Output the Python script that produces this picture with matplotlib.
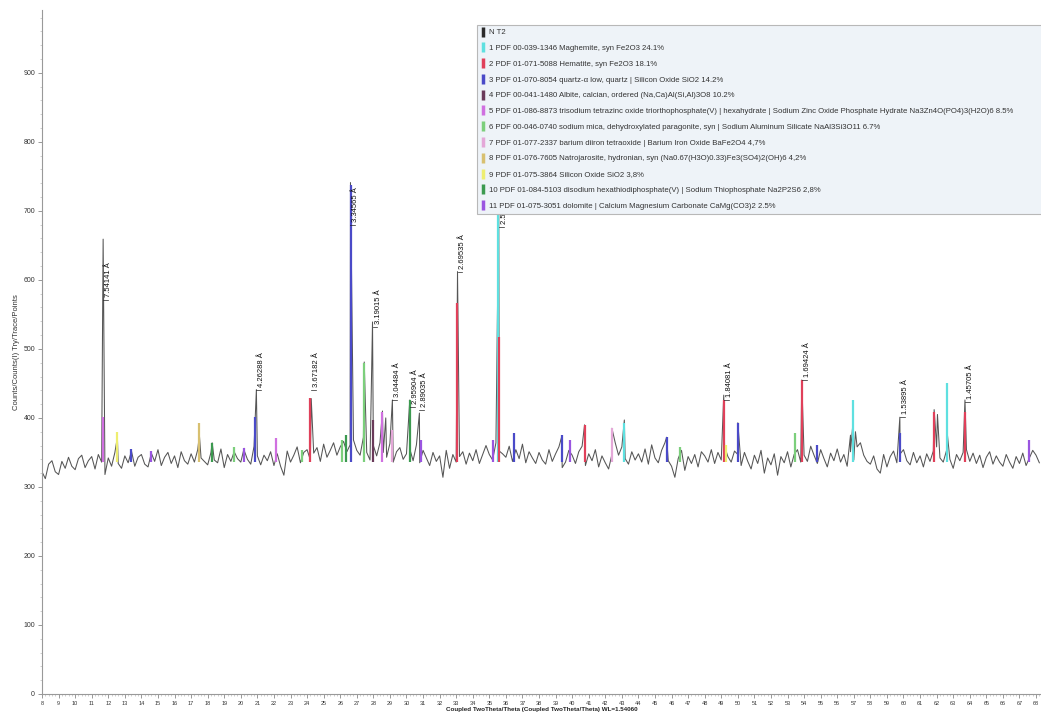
import matplotlib.pyplot as plt
import numpy as np
from matplotlib.lines import Line2D
from matplotlib.ticker import MultipleLocator

plt.rcParams['font.family'] = ['Liberation Sans', 'DejaVu Sans']

# scan: 2theta from 8 deg, 0.2 deg step, background counts
scan_start = 8.0
scan_step = 0.2
background_counts = [
    322, 312, 333, 338, 322, 318, 337, 327, 343, 330,
    325, 341, 346, 328, 338, 344, 326, 347, 336, 318,
    342, 330, 350, 334, 327, 345, 335, 352, 330, 343,
    347, 333, 329, 349, 337, 354, 331, 343, 350, 334,
    345, 328, 351, 338, 333, 348, 336, 354, 342, 337,
    332, 350, 339, 335, 355, 328, 347, 337, 351, 341,
    336, 353, 340, 333, 359, 345, 332, 346, 338, 351,
    331, 348, 330, 317, 352, 336, 346, 358, 335, 350,
    354, 339, 349, 357, 337, 362, 343, 353, 364, 346,
    358, 366, 351, 361, 368, 353, 346, 372, 350, 339,
    360, 345, 364, 350, 343, 363, 336, 351, 357, 340,
    348, 355, 338, 361, 335, 353, 342, 331, 350, 337,
    345, 314, 353, 327, 347, 336, 344, 351, 333, 349,
    338, 354, 334, 347, 360, 347, 339, 364, 352, 348,
    343, 359, 337, 354, 341, 362, 335, 351, 342, 334,
    350, 339, 333, 354, 337, 348, 358, 328, 336, 353,
    346, 334, 351, 359, 331, 348, 338, 354, 329, 345,
    335, 326, 347, 364, 346, 358, 341, 333, 351, 339,
    348, 336, 355, 333, 361, 342, 335, 353, 364, 338,
    330, 314, 341, 353, 324, 344, 334, 347, 329, 351,
    345, 336, 354, 334, 350, 339, 359, 344, 336, 352,
    347, 331, 350, 337, 326, 346, 334, 353, 320, 342,
    332, 348, 317, 344, 335, 351, 329, 347, 354, 336,
    346, 337, 359, 346, 334, 354, 341, 329, 349, 338,
    355, 336, 347, 330, 351, 339, 358, 364, 346, 337,
    333, 345, 326, 320, 347, 329, 344, 352, 335, 348,
    354, 338, 332, 350, 335, 345, 329, 348, 337, 352,
    358, 342, 336, 353, 340, 327, 347, 338, 350, 354,
    337, 349, 334, 346, 328, 343, 351, 333, 345, 336,
    330, 347, 336, 327, 344, 334, 349, 331, 342, 353,
    346, 335,
]

# peak maxima of the measured trace
peak_pos = [11.69, 12.55, 17.5, 18.27, 20.2, 20.94, 24.25, 26.62, 27.45, 27.95,
            28.55, 28.75, 29.15, 30.2, 30.78, 33.08, 35.57, 39.36, 40.75, 42.4,
            43.15, 45.7, 49.15, 50.0, 53.86, 56.8, 56.94, 57.1, 59.78, 61.85,
            62.05, 62.62, 63.71]
peak_counts = [659, 372, 375, 364, 356, 441, 428, 741, 481, 539,
               410, 400, 426, 426, 407, 612, 716, 372, 390, 385,
               397, 372, 433, 393, 455, 375, 390, 380, 401, 412,
               405, 383, 426]

# d-spacing labels
label_pos = [11.69, 20.94, 24.25, 26.62, 27.95, 29.15, 30.2, 30.78, 33.08, 35.57,
             49.15, 53.86, 59.78, 63.71]
label_base = [571, 441, 441, 680, 532, 426, 416, 412, 612, 677,
              426, 455, 401, 423]
label_text = ['7.54141 Å', '4.26288 Å', '3.67182 Å', '3.34565 Å', '3.19015 Å',
              '3.04484 Å', '2.95904 Å', '2.89035 Å', '2.69535 Å', '2.51918 Å',
              '1.84081 Å', '1.69424 Å', '1.53895 Å', '1.45705 Å']

# phase sticks: position, top, phase number (1..11)
stick_base = 336
stick_pos = [11.69, 12.55, 13.4, 14.6, 17.5, 18.27, 19.6, 20.2, 20.87, 22.1,
             23.7, 24.15, 26.1, 26.35, 26.64, 27.45, 27.95, 28.55, 29.15, 30.2,
             30.85, 33.05, 35.2, 35.5, 35.6, 36.5, 39.36, 39.85, 40.75, 42.4,
             43.15, 45.7, 46.5, 49.15, 49.3, 50.0, 53.45, 53.86, 54.8, 56.94,
             59.78, 61.85, 62.62, 63.71, 67.6]
stick_top = [401, 380, 355, 352, 393, 364, 358, 356, 401, 371,
             354, 429, 368, 375, 738, 480, 397, 409, 383, 426,
             368, 567, 368, 712, 517, 378, 375, 368, 390, 385,
             393, 372, 358, 426, 361, 393, 378, 455, 361, 426,
             378, 409, 451, 409, 368]
stick_phase = [5, 9, 3, 11, 8, 10, 6, 11, 3, 5,
               6, 2, 6, 10, 3, 6, 4, 5, 7, 10,
               11, 2, 11, 1, 2, 3, 3, 11, 2, 7,
               1, 3, 6, 2, 9, 3, 6, 2, 3, 1,
               3, 2, 1, 2, 11]

legend_labels = [
    'N T2',
    '1 PDF 00-039-1346 Maghemite, syn Fe2O3 24.1%',
    '2 PDF 01-071-5088 Hematite, syn Fe2O3 18.1%',
    '3 PDF 01-070-8054 quartz-α low, quartz | Silicon Oxide SiO2 14.2%',
    '4 PDF 00-041-1480 Albite, calcian, ordered (Na,Ca)Al(Si,Al)3O8 10.2%',
    '5 PDF 01-086-8873 trisodium tetrazinc oxide triorthophosphate(V) | hexahydrate | '
    'Sodium Zinc Oxide Phosphate Hydrate Na3Zn4O(PO4)3(H2O)6 8.5%',
    '6 PDF 00-046-0740 sodium mica, dehydroxylated paragonite, syn | Sodium Aluminum Silicate NaAl3Si3O11 6.7%',
    '7 PDF 01-077-2337 barium diiron tetraoxide | Barium Iron Oxide BaFe2O4 4,7%',
    '8 PDF 01-076-7605 Natrojarosite, hydronian, syn (Na0.67(H3O)0.33)Fe3(SO4)2(OH)6 4,2%',
    '9 PDF 01-075-3864 Silicon Oxide SiO2 3,8%',
    '10 PDF 01-084-5103 disodium hexathiodiphosphate(V) | Sodium Thiophosphate Na2P2S6 2,8%',
    '11 PDF 01-075-3051 dolomite | Calcium Magnesium Carbonate CaMg(CO3)2 2.5%',
]
legend_colors = ['#2a2a2a', '#5fe0e0', '#e0405a', '#4a4ac8', '#6a3a5a', '#d070e0',
                 '#7ccf7c', '#e4a8d8', '#d8c070', '#eeee70', '#3c9a50', '#9a55e0']

fig = plt.figure(figsize=(10.41, 7.18), dpi=100)
ax = fig.add_axes([42 / 1041, 1 - 694 / 718, 1 - 42 / 1041, 684 / 718])

scan_angle = scan_start + scan_step * np.arange(len(background_counts))
tx = np.concatenate([scan_angle, peak_pos])
ty = np.concatenate([background_counts, peak_counts])
order = np.argsort(tx, kind='stable')
ax.plot(tx[order], ty[order], color='#555555', lw=0.75, zorder=2)

for pos, top, ph in zip(stick_pos, stick_top, stick_phase):
    ax.vlines(pos, stick_base, top, colors=legend_colors[ph], lw=1.6, zorder=3)

for pos, base, txt in zip(label_pos, label_base, label_text):
    ax.plot([pos, pos + 0.3], [base, base], color='#222222', lw=0.5, zorder=4)
    ax.text(pos + 0.12, base + 4, txt, rotation=90, fontsize=5.5, ha='left',
            va='bottom', color='#111111', zorder=4)

ax.set_xlim(8, 68.3)
ax.set_ylim(0, 991)
ax.xaxis.set_major_locator(MultipleLocator(1))
ax.xaxis.set_minor_locator(MultipleLocator(0.2))
ax.yaxis.set_major_locator(MultipleLocator(100))
ax.yaxis.set_minor_locator(MultipleLocator(20))
ax.tick_params(axis='both', which='major', length=3, width=0.6, color='#888888',
               labelcolor='#333333', pad=2)
ax.tick_params(axis='both', which='minor', length=1.5, width=0.4, color='#aaaaaa')
ax.tick_params(axis='x', labelsize=4)
ax.tick_params(axis='y', labelsize=5)
for s in ['top', 'right']:
    ax.spines[s].set_visible(False)
for s in ['left', 'bottom']:
    ax.spines[s].set_color('#999999')
    ax.spines[s].set_linewidth(0.8)

ax.set_xlabel('Coupled TwoTheta/Theta (Coupled TwoTheta/Theta) WL=1.54060',
              fontsize=4.5, fontweight='bold', color='#222222', labelpad=1)
ax.set_ylabel('Counts/Counts(I) Try/Trace/Points', fontsize=5.5, color='#333333')
ax.yaxis.set_label_coords(-0.022, 0.5)

handles = [Line2D([], [], ls='none', marker='|', color=c, markersize=7, mew=2.5)
           for c in legend_colors]
leg = ax.legend(handles, legend_labels, loc='upper left',
                bbox_to_anchor=(477 / 1041, 0, 1 - 477 / 1041 + 0.01, 1 - 25 / 718),
                bbox_transform=fig.transFigure, mode='expand', fontsize=5.6,
                frameon=True, fancybox=False, edgecolor='#b8b8b8', facecolor='#eef3f8',
                framealpha=1, handlelength=0.5, handletextpad=0.6, labelspacing=1.07,
                borderpad=0.5, borderaxespad=0)
for t in leg.get_texts():
    t.set_color('#333333')
leg.get_frame().set_linewidth(0.8)

fig.savefig('out.png', dpi=100)
